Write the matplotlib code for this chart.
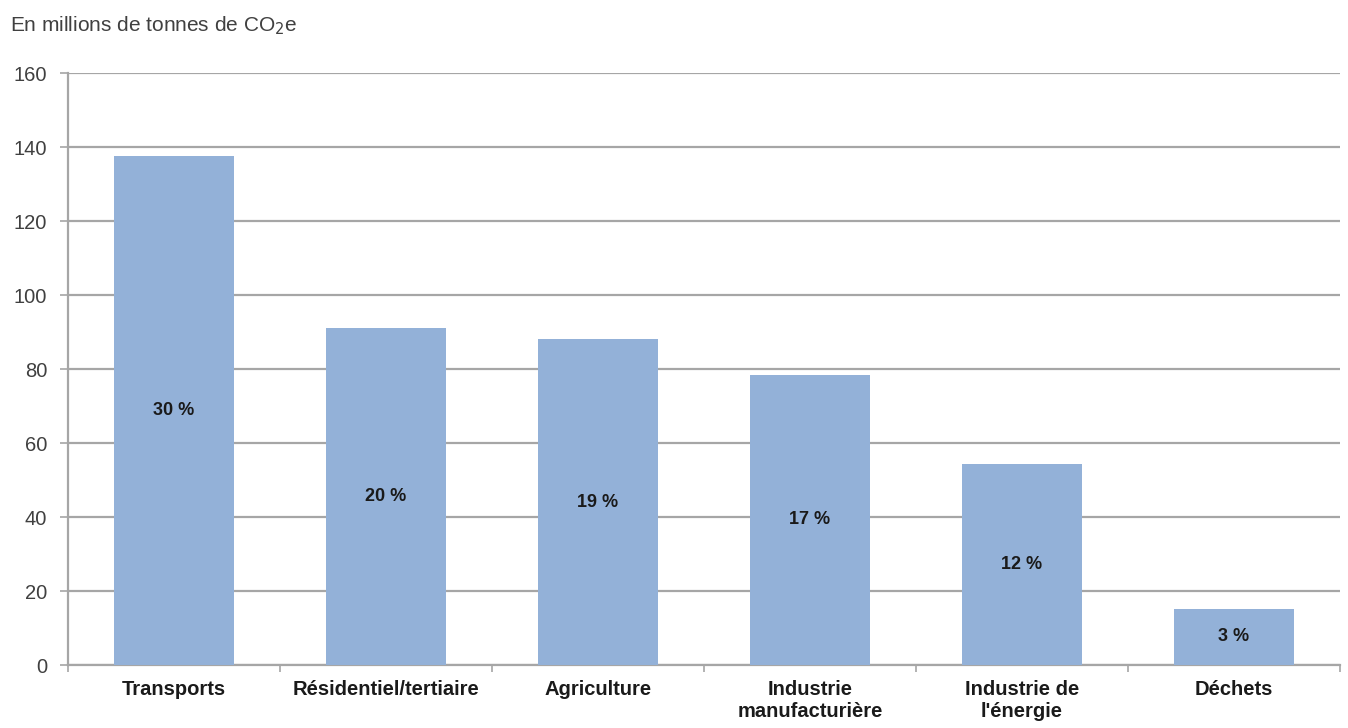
import matplotlib.pyplot as plt
import numpy as np

categories = ["Transports", "Résidentiel/tertiaire", "Agriculture",
              "Industrie\nmanufacturière", "Industrie de\nl'énergie", "Déchets"]
values = [137.5, 91, 88, 78.5, 54.3, 15.2]
shares = ["30 %", "20 %", "19 %", "17 %", "12 %", "3 %"]
yticks = [0, 20, 40, 60, 80, 100, 120, 140, 160]

plt.rcParams["font.family"] = ["Liberation Sans", "DejaVu Sans"]

fig = plt.figure(figsize=(13.48, 7.28), dpi=100)
ax = fig.add_axes([0.0504, 0.0865, 0.9436, 0.8132])

x = np.arange(len(categories))
ax.bar(x, values, width=0.565, color="#93b1d8", zorder=3)
for xi, v, s in zip(x, values, shares):
    ax.text(xi, v / 2, s, ha="center", va="center", fontsize=13,
            fontweight="bold", color="#1a1a1a", zorder=4)

ax.set_xlim(-0.5, len(categories) - 0.5)
ax.set_ylim(0, 160)
ax.set_yticks(yticks)
ax.yaxis.grid(True, color="#a6a6a6", linewidth=1.6, zorder=0)
ax.set_axisbelow(True)

ax.set_xticks(x)
ax.set_xticklabels(categories, fontsize=14.5, fontweight="bold", color="#1a1a1a",
                   linespacing=1.15)
ax.set_xticks(np.arange(len(categories) + 1) - 0.5, minor=True)
ax.tick_params(axis="x", which="major", length=0, pad=11)
ax.tick_params(axis="x", which="minor", length=5, color="#a6a6a6", width=1.2)
ax.tick_params(axis="y", length=6, color="#a6a6a6", width=1.2,
               labelsize=14.5, labelcolor="#404040", pad=9)

for side in ("top", "right"):
    ax.spines[side].set_visible(False)
for side in ("left", "bottom"):
    ax.spines[side].set_color("#a6a6a6")
    ax.spines[side].set_linewidth(1.6)

fig.text(0.0075, 0.965, "En millions de tonnes de CO$_2$e", fontsize=15,
         color="#404040", ha="left", va="center")

fig.savefig("out.png", dpi=100)
